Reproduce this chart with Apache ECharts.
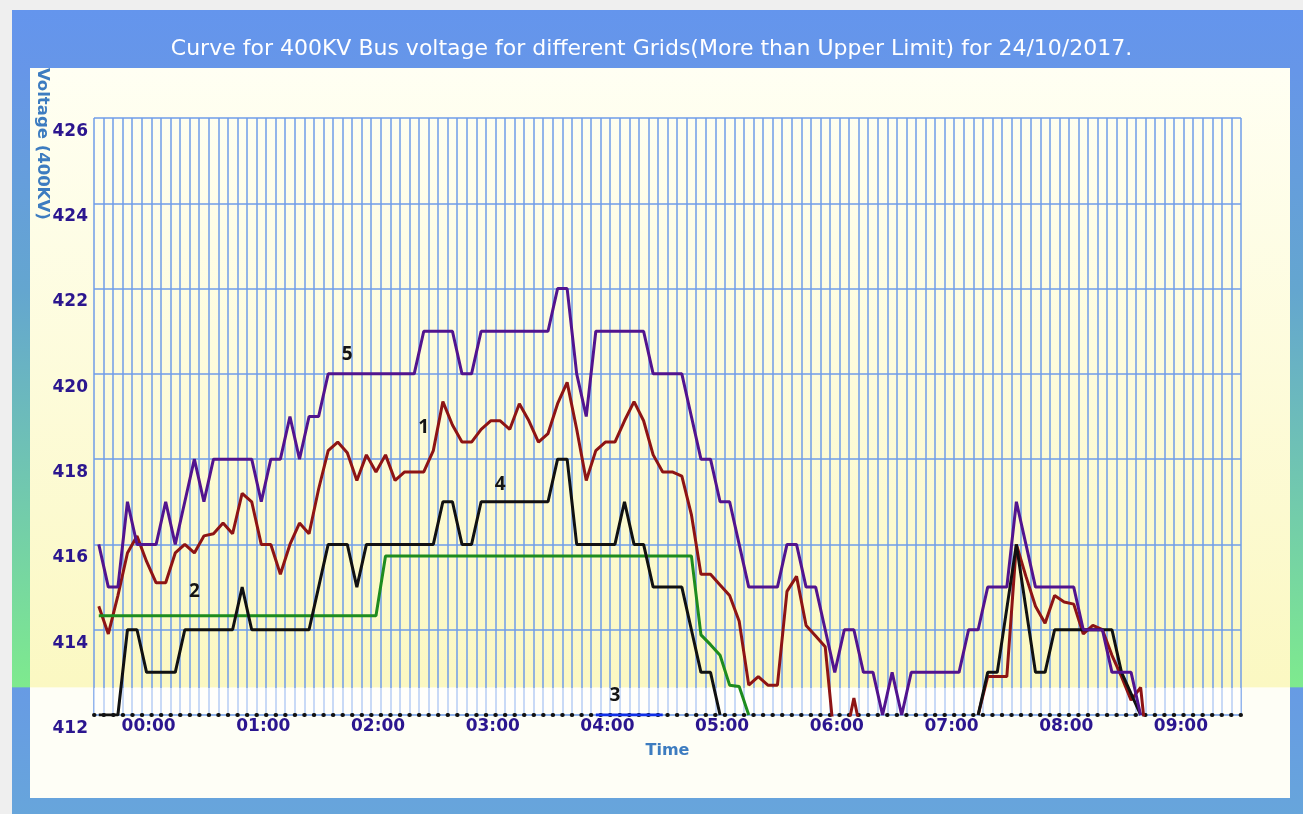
<!DOCTYPE html>
<html>
<head>
<meta charset="utf-8">
<title>400KV Bus voltage</title>
<script src="https://cdn.jsdelivr.net/npm/echarts@6/dist/echarts.min.js"></script>
<style>
html, body { margin: 0; padding: 0; background: #efefef; }
#chart { width: 1303px; height: 814px; }
</style>
</head>
<body>
<div id="chart"></div>
<script>
// time slots, every 5 minutes from 23:30
var times = [];
for (var m = -30; m < 570; m += 5) {
  var t = (m + 1440) % 1440;
  times.push(('0' + Math.floor(t / 60)).slice(-2) + ':' + ('0' + (t % 60)).slice(-2));
}

// grid 1 (dark red)
var grid1 = [414.55, 413.9, 414.8, 415.8, 416.2, 415.6, 415.1, 415.1, 415.8, 416.0,
  415.8, 416.2, 416.25, 416.5, 416.25, 417.2, 417.0, 416.0, 416.0, 415.3,
  416.0, 416.5, 416.25, 417.3, 418.2, 418.4, 418.15, 417.5, 418.1, 417.7,
  418.1, 417.5, 417.7, 417.7, 417.7, 418.2, 419.35, 418.8, 418.4, 418.4,
  418.7, 418.9, 418.9, 418.7, 419.3, 418.9, 418.4, 418.6, 419.3, 419.8,
  418.7, 417.5, 418.2, 418.4, 418.4, 418.9, 419.35, 418.9, 418.1, 417.7,
  417.7, 417.6, 416.7, 415.3, 415.3, 415.05, 414.8, 414.2, 412.7, 412.9,
  412.7, 412.7, 414.9, 415.25, 414.1, 413.85, 413.6, 411.3, 411.3, 412.4,
  411.3, null, null, null, null, null, null, null, null, null,
  null, null, 412.0, 412.9, 412.9, 412.9, 416.0, 415.25, 414.55, 414.15,
  414.8, 414.65, 414.6, 413.9, 414.1, 414.0, 413.4, 412.9, 412.35, 412.65,
  410.5, null, null, null, null, null, null, null, null, null];

// grid 2 (green)
var grid2 = [414.33, 414.33, 414.33, 414.33, 414.33, 414.33, 414.33, 414.33, 414.33, 414.33,
  414.33, 414.33, 414.33, 414.33, 414.33, 414.33, 414.33, 414.33, 414.33, 414.33,
  414.33, 414.33, 414.33, 414.33, 414.33, 414.33, 414.33, 414.33, 414.33, 414.33,
  415.73, 415.73, 415.73, 415.73, 415.73, 415.73, 415.73, 415.73, 415.73, 415.73,
  415.73, 415.73, 415.73, 415.73, 415.73, 415.73, 415.73, 415.73, 415.73, 415.73,
  415.73, 415.73, 415.73, 415.73, 415.73, 415.73, 415.73, 415.73, 415.73, 415.73,
  415.73, 415.73, 415.73, 413.88, 413.65, 413.4, 412.7, 412.67, 412.0, null];

// grid 3 (blue)
var grid3 = [];
grid3[52] = 412; grid3[53] = 412; grid3[54] = 412; grid3[55] = 412;
grid3[56] = 412; grid3[57] = 412; grid3[58] = 412; grid3[59] = 412;

// grid 4 (black)
var grid4 = [412, 412, 412, 414, 414, 413, 413, 413, 413, 414,
  414, 414, 414, 414, 414, 415, 414, 414, 414, 414,
  414, 414, 414, 415, 416, 416, 416, 415, 416, 416,
  416, 416, 416, 416, 416, 416, 417, 417, 416, 416,
  417, 417, 417, 417, 417, 417, 417, 417, 418, 418,
  416, 416, 416, 416, 416, 417, 416, 416, 415, 415,
  415, 415, 414, 413, 413, 412, null, null, null, null,
  null, null, null, null, null, null, null, null, null, null,
  null, null, null, null, null, null, null, null, null, null,
  null, null, 412, 413, 413, 414.5, 416, 414.5, 413, 413,
  414, 414, 414, 414, 414, 414, 414, 413, 412.5, 412];

// grid 5 (purple)
var grid5 = [416, 415, 415, 417, 416, 416, 416, 417, 416, 417,
  418, 417, 418, 418, 418, 418, 418, 417, 418, 418,
  419, 418, 419, 419, 420, 420, 420, 420, 420, 420,
  420, 420, 420, 420, 421, 421, 421, 421, 420, 420,
  421, 421, 421, 421, 421, 421, 421, 421, 422, 422,
  420, 419, 421, 421, 421, 421, 421, 421, 420, 420,
  420, 420, 419, 418, 418, 417, 417, 416, 415, 415,
  415, 415, 416, 416, 415, 415, 414, 413, 414, 414,
  413, 413, 412, 413, 412, 413, 413, 413, 413, 413,
  413, 414, 414, 415, 415, 415, 417, 416, 415, 415,
  415, 415, 415, 414, 414, 414, 413, 413, 413, 412];

var seriesNames = ['1', '2', '3', '4', '5'];
var seriesColors = ['#8e1414', '#1e8c1e', '#1030e8', '#111111', '#52148f'];
var seriesData = [grid1, grid2, grid3, grid4, grid5];
// where the small number tag of each curve sits
var tagTimes = ['02:20', '00:20', '04:00', '03:00', '01:40'];
var tagValues = [418.75, 414.9, 412.45, 417.4, 420.45];

var myChart = echarts.init(document.getElementById('chart'));

var series = seriesNames.map(function (name, k) {
  var arr = [];
  for (var i = 0; i < times.length; i++) {
    arr.push(seriesData[k][i] == null ? null : seriesData[k][i]);
  }
  return {
    name: name,
    type: 'line',
    data: arr,
    symbol: 'none',
    connectNulls: false,
    lineStyle: { color: seriesColors[k], width: 3 },
    itemStyle: { color: seriesColors[k] },
    markPoint: {
      silent: true,
      symbol: 'circle',
      symbolSize: 1,
      itemStyle: { color: 'transparent' },
      label: {
        show: true,
        position: 'inside',
        formatter: name,
        color: '#141414',
        fontSize: 19,
        fontWeight: 'bold',
        fontFamily: 'Noto Sans'
      },
      data: [{ coord: [tagTimes[k], tagValues[k]] }]
    }
  };
});

myChart.setOption({
  animation: false,
  backgroundColor: '#efefef',
  title: {
    text: 'Curve for 400KV Bus voltage for different Grids(More than Upper Limit) for 24/10/2017.',
    left: 'center',
    top: 33,
    textStyle: {
      color: '#ffffff',
      fontSize: 22,
      fontWeight: 'normal',
      fontFamily: 'DejaVu Sans'
    }
  },
  graphic: [
    {
      type: 'rect', z: -20,
      shape: { x: 12, y: 10, width: 1291, height: 804 },
      style: {
        fill: new echarts.graphic.LinearGradient(0, 0, 0, 1, [
          { offset: 0, color: '#6495ed' },
          { offset: 0.075, color: '#6696e8' },
          { offset: 0.35, color: '#64a6cf' },
          { offset: 0.842, color: '#7eea8e' },
          { offset: 0.843, color: '#679be4' },
          { offset: 1, color: '#67a5db' }
        ])
      }
    },
    {
      type: 'rect', z: -19,
      shape: { x: 30, y: 68, width: 1260, height: 730 },
      style: {
        fill: new echarts.graphic.LinearGradient(0, 0, 0, 1, [
          { offset: 0, color: '#fffff3' },
          { offset: 0.848, color: '#fbf8c2' },
          { offset: 0.849, color: '#fefef6' },
          { offset: 1, color: '#fefef6' }
        ])
      }
    },
    {
      type: 'rect', z: 1,
      shape: { x: 94, y: 688, width: 1147, height: 25 },
      style: { fill: 'rgba(255,255,255,0.5)' }
    },
    {
      type: 'text', z: 5,
      x: 42, y: 68,
      rotation: -Math.PI / 2,
      style: {
        text: 'Voltage (400KV)',
        fill: '#3d7cc0',
        font: 'bold 16.5px "DejaVu Sans"',
        textAlign: 'left',
        textVerticalAlign: 'middle',
        align: 'left',
        verticalAlign: 'middle'
      }
    }
  ],
  grid: { left: 94, top: 118, width: 1147, height: 597 },
  xAxis: {
    type: 'category',
    data: times,
    boundaryGap: true,
    name: 'Time',
    nameLocation: 'middle',
    nameGap: 28,
    nameTextStyle: { color: '#3d7cc0', fontSize: 16, fontWeight: 'bold', fontFamily: 'DejaVu Sans' },
    axisLine: {
      show: true,
      lineStyle: { color: '#111111', width: 4, type: [0.5, 9.055], cap: 'round' }
    },
    axisTick: { show: false },
    axisLabel: {
      interval: function (i, v) { return v.slice(3) === '00'; },
      margin: 3,
      color: '#2b168f',
      fontSize: 17,
      fontWeight: 'bold',
      fontFamily: 'DejaVu Sans',
      padding: [0, 15, 0, 0]
    },
    splitLine: { show: true, interval: 0, lineStyle: { color: '#6f9de9', width: 1.5 } }
  },
  yAxis: {
    type: 'value',
    min: 412,
    max: 426,
    interval: 2,
    axisLine: { show: false },
    axisTick: { show: false },
    axisLabel: {
      margin: 6,
      color: '#2b168f',
      fontSize: 17,
      fontWeight: 'bold',
      fontFamily: 'DejaVu Sans',
      verticalAlign: 'top',
      padding: [5, 0, 0, 0]
    },
    splitLine: { lineStyle: { color: '#6f9de9', width: 1.5 } }
  },
  series: series
});

window.addEventListener('resize', function () {
  myChart.resize();
});
</script>
</body>
</html>
